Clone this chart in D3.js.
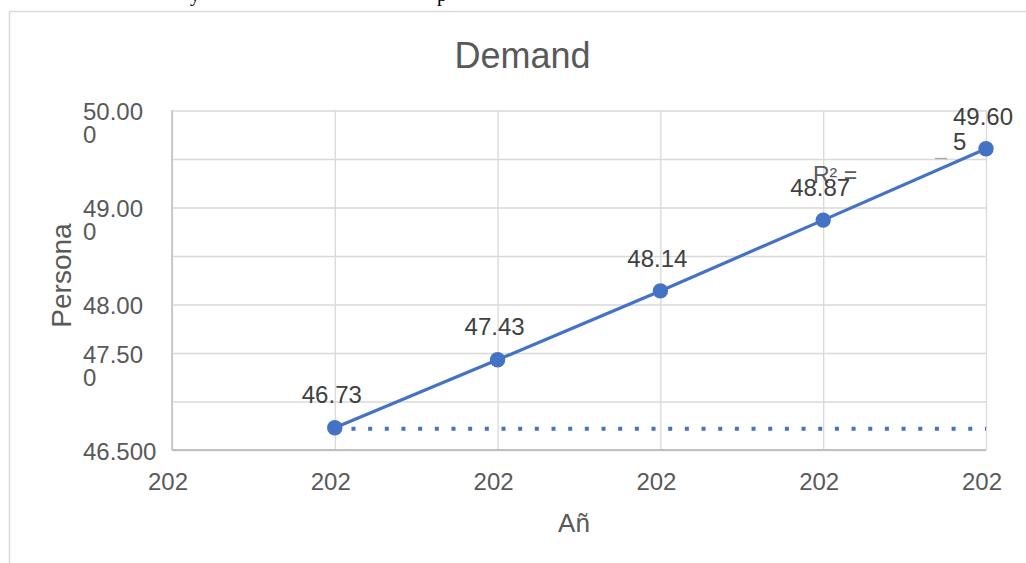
<!DOCTYPE html>
<html>
<head>
<meta charset="utf-8">
<script src="https://cdn.jsdelivr.net/npm/d3@7"></script>
<style>
  html, body { margin: 0; padding: 0; background: #fff; }
  svg { display: block; font-family: "Liberation Sans", Arial, sans-serif; }
</style>
</head>
<body>
<svg id="chart" width="1026" height="563"></svg>
<script>
// Demand per year
const years = [2021, 2022, 2023, 2024, 2025];
const demand = [46.73, 47.43, 48.14, 48.87, 49.605];

// Flat dotted series along the base
const baseYears = [2021, 2025];
const baseValues = [46.72, 46.72];

// Axis ticks and their labels
const xTicks = [2020, 2021, 2022, 2023, 2024, 2025];
const xTickLabels = ["202", "202", "202", "202", "202", "202"];
const yGridTicks = [46.5, 47, 47.5, 48, 48.5, 49, 49.5, 50];
const yLabelTicks = [50, 49, 48, 47.5, 46.5];
const yTickLabels = ["50.00\n0", "49.00\n0", "48.00", "47.50\n0", "46.500"];

const svg = d3.select("#chart");
const W = 1026, H = 563;
const plotLeft = 172, plotRight = 986, plotTop = 110.5, plotBottom = 450;
const blue = "#4472c4";
const labelGrey = "#595959";

// descenders of the text line above the chart frame
svg.append("g")
  .attr("font-family", "'Liberation Serif', 'Times New Roman', serif")
  .attr("font-size", 20).attr("fill", "#000")
  .selectAll("text").data([{x: 190, t: "y"}, {x: 437, t: "p"}]).join("text")
  .attr("x", d => d.x).attr("y", 0.5).text(d => d.t);

// chart frame
svg.append("path")
  .attr("d", `M9.5,${H} V11.5 H${W}`)
  .attr("fill", "none").attr("stroke", "#d9d9d9").attr("stroke-width", 1.5);

const x = d3.scaleLinear().domain([2020, 2025]).range([plotLeft, plotRight]);
const y = d3.scaleLinear().domain([46.5, 50]).range([plotBottom, plotTop]);

// horizontal gridlines
svg.append("g")
  .attr("transform", `translate(${plotLeft},0)`)
  .call(d3.axisLeft(y).tickValues(yGridTicks).tickSize(-(plotRight - plotLeft)).tickFormat(""))
  .call(g => g.select(".domain").remove())
  .call(g => g.selectAll("line").attr("stroke", "#d9d9d9").attr("stroke-width", 1.3));

// vertical gridlines
svg.append("g")
  .attr("transform", `translate(0,${plotBottom})`)
  .call(d3.axisBottom(x).tickValues(xTicks).tickSize(-(plotBottom - plotTop)).tickFormat(""))
  .call(g => g.select(".domain").remove())
  .call(g => g.selectAll("line").attr("stroke", "#d9d9d9").attr("stroke-width", 1.3));

// axis lines
svg.append("line").attr("x1", plotLeft).attr("x2", plotLeft).attr("y1", plotTop).attr("y2", plotBottom)
  .attr("stroke", "#bfbfbf").attr("stroke-width", 1.5);
svg.append("line").attr("x1", plotLeft).attr("x2", plotRight).attr("y1", plotBottom).attr("y2", plotBottom)
  .attr("stroke", "#bfbfbf").attr("stroke-width", 1.8);

// y tick labels (wrapped lines, left aligned)
const yl = svg.append("g").attr("fill", labelGrey).attr("font-size", 24);
yLabelTicks.forEach((v, i) => {
  const t = yl.append("text").attr("x", 83).attr("y", y(v) + 9.5);
  yTickLabels[i].split("\n").forEach((line, j) => {
    t.append("tspan").attr("x", 83).attr("dy", j === 0 ? 0 : 23).text(line);
  });
});

// x tick labels
svg.append("g").attr("fill", labelGrey).attr("font-size", 24).attr("text-anchor", "middle")
  .selectAll("text").data(xTicks).join("text")
  .attr("x", d => x(d) - 4).attr("y", 489.5)
  .text((d, i) => xTickLabels[i]);

// title
svg.append("text").attr("x", 522.5).attr("y", 68).attr("text-anchor", "middle")
  .attr("font-size", 36).attr("fill", labelGrey).text("Demand");

// axis titles
svg.append("text").attr("x", (plotLeft + plotRight) / 2 - 5).attr("y", 531.5).attr("text-anchor", "middle")
  .attr("font-size", 26).attr("fill", labelGrey).text("Añ");
svg.append("text").attr("transform", "translate(71,275.5) rotate(-90)").attr("text-anchor", "middle")
  .attr("font-size", 28).attr("fill", labelGrey).text("Persona");

// dotted base series
svg.append("path")
  .datum(baseYears.map((d, i) => [d, baseValues[i]]))
  .attr("d", d3.line().x(d => x(d[0])).y(d => y(d[1])))
  .attr("fill", "none").attr("stroke", blue).attr("stroke-width", 4)
  .attr("stroke-dasharray", "4 12.67");

// trend label remnants
svg.append("line").attr("x1", 935).attr("x2", 947).attr("y1", 158.5).attr("y2", 158.5)
  .attr("stroke", "#a6a6a6").attr("stroke-width", 1.3);
svg.append("text").attr("x", 813).attr("y", 183).attr("font-size", 23).attr("fill", labelGrey)
  .text("R² =");

// demand line
const pts = years.map((d, i) => [d, demand[i]]);
svg.append("path").datum(pts)
  .attr("d", d3.line().x(d => x(d[0])).y(d => y(d[1])))
  .attr("fill", "none").attr("stroke", blue).attr("stroke-width", 3.2);

svg.append("g").selectAll("circle").data(pts).join("circle")
  .attr("cx", d => x(d[0])).attr("cy", d => y(d[1])).attr("r", 7.7)
  .attr("fill", blue);

// value labels
const fmt = v => String(v);
const vl = svg.append("g").attr("fill", "#404040").attr("font-size", 24);
pts.forEach(d => {
  const s = fmt(d[1]);
  const lines = s.length > 5 ? [s.slice(0, 5), s.slice(5)] : [s];
  const blockW = 60;
  const cx = x(d[0]) - 3;
  const t = vl.append("text").attr("y", y(d[1]) - 24.3);
  if (lines.length === 1) {
    t.attr("x", cx).attr("text-anchor", "middle").text(lines[0]);
  } else {
    lines.forEach((line, j) => {
      t.append("tspan").attr("x", cx - blockW / 2).attr("dy", j === 0 ? 0 : 25).text(line);
    });
  }
});
</script>
</body>
</html>
